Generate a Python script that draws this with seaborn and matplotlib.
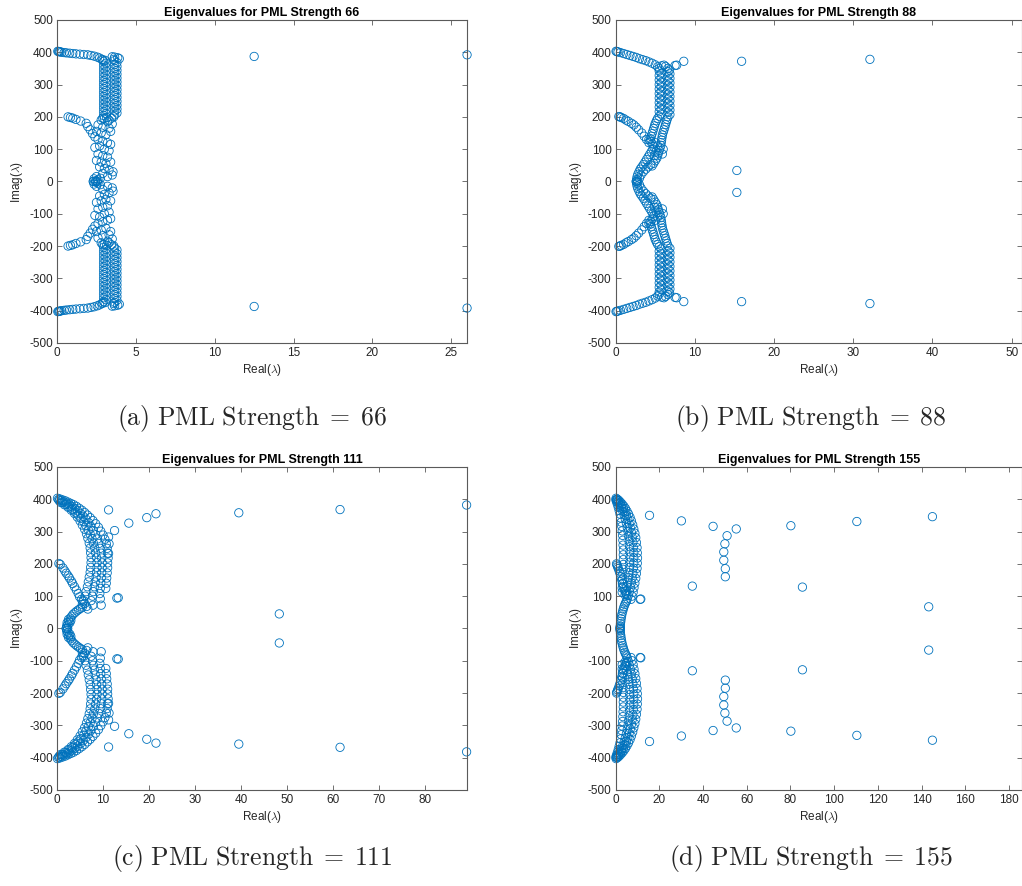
import numpy as np
import pandas as pd
import matplotlib
matplotlib.use("Agg")
import matplotlib.pyplot as plt
from matplotlib.ticker import MultipleLocator
import seaborn as sns

sns.set_style("ticks")
plt.rcParams["font.family"] = ["Liberation Sans", "DejaVu Sans"]
plt.rcParams["mathtext.fontset"] = "cm"
plt.rcParams["axes.unicode_minus"] = False

BLUE = "#0072BD"
AXC = "#5a5a5a"
TXT = "#262626"

# upper half of each spectrum (eigenvalues come in conjugate pairs)
# PML strength 66
re_66 = [0.05, 0.1, 0.15, 0.2, 0.3, 0.45, 0.6, 0.8, 1.0, 1.2, 1.45, 1.7, 1.95, 2.15, 2.35, 2.55, 2.7, 2.85,
         2.9, 3.05,
         2.95, 3.1, 2.95, 3.1, 2.95, 3.1, 2.95, 3.1, 2.95, 3.1, 2.95, 3.1, 2.95, 3.1, 2.95, 3.1, 2.95, 3.1,
         2.95, 3.1, 2.95, 3.1, 2.95, 3.1, 2.95, 3.1, 2.95, 3.1, 2.95,
         3.5, 3.65, 3.85, 3.95, 3.6,
         3.65, 3.8, 3.65, 3.8, 3.65, 3.8, 3.65, 3.8, 3.65, 3.8, 3.65, 3.8, 3.65, 3.8, 3.65, 3.8, 3.65, 3.8,
         3.65, 3.8, 3.65, 3.8, 3.65, 3.8, 3.65, 3.8, 3.65, 3.8, 3.65,
         3.6, 3.45, 3.3, 3.15, 2.9,
         0.7, 0.85, 1.0, 1.2, 1.5, 1.85, 1.95, 2.1, 2.25, 2.4,
         2.8, 3.0, 3.2, 3.5, 2.6, 2.9, 3.3, 2.5, 2.8, 3.1, 3.4, 2.6, 2.9, 3.2, 2.4, 2.7, 3.0, 3.3, 3.4,
         2.6, 2.9, 3.2, 2.5, 2.8, 3.1, 3.4, 2.7, 3.0, 3.3, 3.55, 3.5, 2.9, 2.5, 2.35, 2.6, 2.45, 2.75, 3.2,
         2.3, 2.55,
         12.5, 26.0]
im_66 = [403, 402, 402, 401, 400, 399, 398, 397, 396, 395, 394, 393, 392, 390, 388, 385, 382, 378,
         376, 375,
         372, 366, 360, 354, 348, 342, 336, 330, 324, 318, 312, 306, 300, 294, 288, 282, 276, 270,
         264, 258, 252, 246, 240, 234, 228, 222, 216, 210, 204,
         386, 385, 383, 380, 378,
         374, 368, 362, 356, 350, 344, 338, 332, 326, 320, 314, 308, 302, 296, 290, 284, 278, 272,
         266, 260, 254, 248, 242, 236, 230, 224, 218, 212, 206,
         200, 196, 190, 198, 196,
         200, 198, 196, 192, 187, 180, 170, 160, 148, 138,
         190, 195, 185, 178, 175, 168, 165, 155, 150, 145, 155, 130, 125, 120, 105, 110, 100, 95, 115,
         85, 80, 75, 65, 60, 55, 60, 45, 40, 35, 30, 20, 25, 15, 8, 5, 2, 10, 15,
         0, 0,
         387, 392]

# PML strength 88
re_88 = [0.05, 0.15, 0.3, 0.6, 1.0, 1.4, 1.8, 2.2, 2.6, 3.0, 3.4, 3.8, 4.2, 4.6, 5.0, 5.3, 5.5,
         5.8, 6.1, 6.3, 6.6, 6.8, 7.5, 7.7, 8.6,
         5.5, 5.75, 5.5, 5.75, 5.5, 5.75, 5.5, 5.75, 5.5, 5.75, 5.5, 5.75, 5.5, 5.75, 5.5, 5.75,
         5.5, 5.75, 5.5, 5.75, 5.5,
         5.3, 5.15, 5.0, 4.9, 4.8, 4.7, 4.6, 4.5, 4.4, 4.45, 4.6, 4.8, 4.7, 4.5, 4.3, 4.1, 3.9, 3.7,
         3.5, 3.3, 3.1, 2.95, 2.8, 2.7, 2.65, 2.8, 2.6,
         6.6, 6.85, 6.6, 6.85, 6.6, 6.85, 6.6, 6.85, 6.6, 6.85, 6.6, 6.85, 6.6, 6.85, 6.6, 6.85,
         6.6, 6.85, 6.6, 6.85,
         6.6, 6.5, 6.4, 6.3, 6.2, 6.1, 6.0, 5.9, 5.85, 5.8, 5.75, 5.7, 5.6, 5.5, 5.4, 5.3, 5.2, 5.0,
         4.8, 4.6,
         5.0, 5.3, 4.2, 6.0, 5.9, 5.1, 4.9, 4.4, 4.1, 3.8, 3.5, 3.2, 3.0,
         0.4, 0.55, 0.7, 1.0, 1.3, 1.6, 2.0, 2.3, 2.6, 2.9, 3.3, 3.6, 3.9, 4.2,
         15.9, 15.3, 32.1]
im_88 = [403, 402, 401, 399, 396, 393, 390, 387, 384, 380, 377, 374, 370, 366, 361, 355, 349,
         358, 360, 356, 350, 345, 359, 360, 372,
         342, 335, 328, 321, 314, 307, 300, 293, 286, 279, 272, 265, 258, 251, 244, 237,
         230, 223, 216, 209, 202,
         195, 188, 180, 172, 164, 156, 148, 140, 132, 124, 116, 108, 100, 92, 84, 76, 68, 60,
         52, 45, 38, 30, 22, 14, 6, 2, 0,
         340, 333, 326, 319, 312, 305, 298, 291, 284, 277, 270, 263, 256, 249, 242, 235,
         228, 221, 214, 207,
         200, 192, 184, 176, 168, 160, 152, 144, 136, 128, 120, 112, 104, 96, 88, 80, 72, 64,
         56, 48,
         120, 110, 130, 100, 85, 92, 80, 52, 45, 38, 30, 20, 10,
         201, 200, 198, 195, 190, 186, 180, 175, 168, 160, 150, 140, 130, 120,
         372, 34, 378]

# PML strength 111
re_111 = [0.1, 0.6, 1.2, 1.8, 2.4, 3.0, 3.6, 4.2, 4.8, 5.4, 6.0, 6.6, 7.2, 7.8, 8.4, 9.0, 9.5, 10.0,
          10.4, 10.7, 10.9, 11.0, 11.1, 11.0, 11.0, 10.9, 10.8, 10.7, 10.6,
          0.3, 0.9, 1.5, 2.1, 2.7, 3.3, 3.9, 4.5, 5.1, 5.7, 6.3, 6.9, 7.4, 7.9, 8.4, 8.8, 9.1, 9.4,
          9.6, 9.7, 9.8, 9.8, 9.7, 9.6, 9.5, 9.4, 9.3, 9.4, 9.6,
          0.5, 1.2, 1.9, 2.6, 3.3, 4.0, 4.6, 5.2, 5.8, 6.3, 6.8, 7.2, 7.6, 7.9, 8.2, 8.4, 8.6, 8.7,
          8.7, 8.6, 8.5, 8.3, 8.1, 7.9, 7.7, 7.4, 7.8,
          0.8, 1.6, 2.4, 3.1, 3.8, 4.4, 5.0, 5.5, 6.0, 6.4, 6.7, 7.0, 7.2, 7.3, 7.4, 7.4, 7.3, 7.2,
          7.0, 6.8, 6.6, 6.3, 6.1, 5.8, 5.5,
          0.4, 0.7, 1.3, 1.7, 2.0, 2.4, 2.7, 3.1, 3.4, 3.8, 4.2, 4.6, 4.9, 5.3, 5.6, 6.0, 6.4, 6.7,
          2.0, 2.3, 2.1, 2.4, 2.2, 2.6, 2.5, 2.9, 3.2, 3.5, 3.9, 4.3, 4.7, 5.1, 5.5, 2.8, 3.0,
          11.2, 12.5, 15.6, 19.5, 21.5, 39.5, 13.0, 13.3, 11.2, 11.3, 11.2, 48.3, 61.5, 89.0]
im_111 = [403, 401, 398, 395, 391, 387, 383, 378, 372, 366, 359, 351, 343, 334, 324, 313, 301, 289,
          276, 262, 248, 233, 218, 203, 188, 172, 156, 140, 124,
          399, 396, 392, 388, 383, 377, 371, 364, 356, 347, 338, 327, 315, 303, 290, 277, 263, 248,
          233, 218, 203, 188, 172, 156, 140, 124, 108, 92, 72,
          395, 390, 384, 377, 369, 360, 351, 341, 330, 318, 305, 292, 278, 264, 249, 234, 219, 204,
          189, 174, 159, 144, 129, 114, 100, 86, 72,
          390, 383, 375, 366, 356, 345, 333, 320, 307, 293, 279, 264, 249, 234, 219, 204, 189, 174,
          159, 144, 129, 114, 100, 86, 74,
          201, 198, 187, 178, 171, 163, 156, 147, 139, 129, 119, 108, 98, 90, 84, 77, 68, 60,
          0, 0, 8, 12, 18, 22, 28, 32, 38, 44, 49, 54, 58, 62, 66, 18, 25,
          367, 303, 326, 343, 355, 358, 94, 95, 283, 262, 232, 45, 368, 382]

# PML strength 155
re_155 = [0.2, 0.8, 1.5, 2.2, 3.0, 3.8, 4.5, 5.2, 5.9, 6.6, 7.2, 7.8, 8.3, 8.8, 9.2, 9.5, 9.8, 9.9,
          10.0, 9.9, 9.8, 9.5, 9.2, 8.8, 8.4, 8.0, 7.5, 7.0,
          0.4, 1.2, 2.0, 2.8, 3.6, 4.3, 5.0, 5.6, 6.2, 6.7, 7.2, 7.6, 7.9, 8.1, 8.3, 8.3, 8.3, 8.1,
          7.9, 7.6, 7.2, 6.8, 6.3, 5.8, 5.3,
          0.6, 1.3, 2.0, 2.7, 3.3, 3.9, 4.4, 4.9, 5.3, 5.7, 6.0, 6.2, 6.4, 6.5, 6.5, 6.4, 6.3, 6.1,
          5.8, 5.5, 5.1, 4.7, 4.3,
          0.1, 0.4, 0.8, 1.2, 1.6, 2.0, 2.3, 2.6, 2.8, 3.0, 3.2, 3.3, 3.4, 3.5, 3.5, 3.5, 3.5, 3.4,
          3.3, 3.2, 3.1, 3.0, 3.0,
          2.0, 2.05, 2.1, 2.2, 2.35, 2.5, 2.7, 2.9, 3.2, 3.5, 3.8, 4.2, 4.6, 5.0,
          0.4, 0.6, 0.9, 1.2, 1.6, 2.0, 2.4, 2.8, 3.2, 3.5, 3.9, 4.3, 4.7, 5.1,
          11.2, 11.5, 15.5, 30.1, 35.1, 44.6, 51.0, 50.0, 49.5, 49.5, 50.2, 50.2, 55.2,
          80.2, 110.4, 145.0, 85.5, 143.3]
im_155 = [403, 400, 396, 391, 385, 378, 371, 363, 354, 344, 333, 321, 308, 295, 281, 266, 250, 234,
          218, 202, 186, 170, 155, 140, 126, 112, 100, 90,
          399, 394, 387, 379, 370, 360, 349, 337, 324, 311, 297, 282, 267, 251, 235, 219, 203, 187,
          171, 156, 141, 127, 114, 102, 92,
          396, 389, 381, 372, 362, 351, 339, 326, 313, 299, 284, 269, 253, 237, 221, 205, 189, 173,
          158, 143, 129, 116, 104,
          398, 392, 384, 375, 365, 354, 342, 329, 316, 302, 288, 273, 258, 243, 228, 213, 198, 183,
          168, 153, 139, 125, 112,
          0, 4, 8, 15, 22, 30, 38, 45, 53, 60, 67, 74, 80, 85,
          200, 196, 191, 186, 178, 170, 160, 150, 139, 129, 122, 115, 109, 103,
          90, 91, 350, 333, 131, 316, 287, 262, 237, 211, 185, 160, 308,
          318, 331, 346, 128, 67]

strengths = [66, 88, 111, 155]
letters = ["a", "b", "c", "d"]
spectra = [(re_66, im_66), (re_88, im_88), (re_111, im_111), (re_155, im_155)]
x_limits = [26.0, 51.3, 89.1, 186.0]
x_steps = [5, 10, 10, 20]

# axes boxes in figure fractions [left, bottom, width, height]
boxes = [[0.0558, 0.6129, 0.4012, 0.3646], [0.6024, 0.6129, 0.3976, 0.3646],
         [0.0558, 0.1084, 0.4012, 0.3646], [0.6024, 0.1084, 0.3976, 0.3646]]
caption_xy = [(0.2466, 0.5282), (0.7935, 0.5282), (0.2466, 0.0305), (0.7935, 0.0305)]

fig = plt.figure(figsize=(10.22, 8.86), dpi=100)

for k in range(4):
    re, im = spectra[k]
    df = pd.DataFrame({"re": re + re, "im": im + [-v for v in im]})
    ax = fig.add_axes(boxes[k])
    sns.scatterplot(data=df, x="re", y="im", ax=ax, s=36, marker="o",
                    facecolor="none", edgecolor=BLUE, linewidth=0.6, clip_on=False)
    ax.set_xlim(0, x_limits[k])
    ax.set_ylim(-500, 500)
    ax.xaxis.set_major_locator(MultipleLocator(x_steps[k]))
    ax.yaxis.set_major_locator(MultipleLocator(100))
    for sp in ax.spines.values():
        sp.set_visible(True)
        sp.set_color(AXC)
        sp.set_linewidth(0.8)
    ax.tick_params(direction="in", top=True, right=True, length=3.5, width=0.6,
                   color=AXC, labelcolor=TXT, labelsize=8.5, pad=3)
    ax.set_xlabel(r"Real($\lambda$)", fontsize=8.5, color=TXT, labelpad=2)
    ax.set_ylabel(r"Imag($\lambda$)", fontsize=8.5, color=TXT, labelpad=3)
    ax.set_title(f"Eigenvalues for PML Strength {strengths[k]}", fontsize=9,
                 fontweight="bold", color="black", pad=3)
    cx, cy = caption_xy[k]
    fig.text(cx, cy,
             r"$\mathrm{(%s)\ PML\ Strength}\;=\;\mathrm{%d}$" % (letters[k], strengths[k]),
             ha="center", va="center", fontsize=18.5)

plt.savefig("out.png", dpi=100)
